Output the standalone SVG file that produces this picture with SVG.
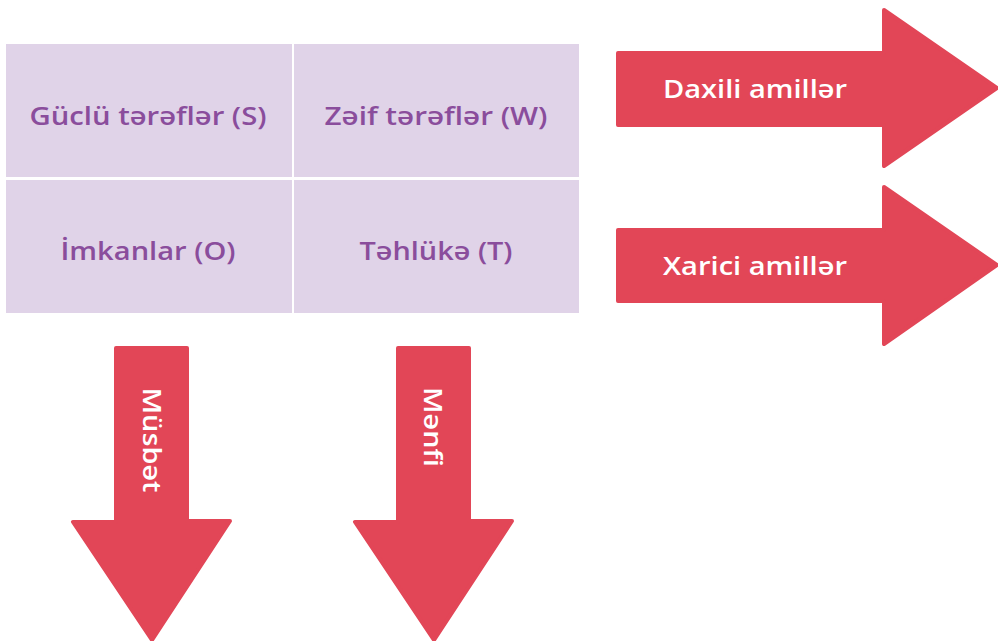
<svg xmlns="http://www.w3.org/2000/svg" width="998" height="641" viewBox="0 0 998 641">
<style>
.cell{fill:#E0D3E8}
.ct{font-family:"Open Sans","Liberation Sans",sans-serif;font-weight:600;font-size:25px;fill:#8A4D9C;text-anchor:middle}
.arr{fill:#E24657;stroke:#E24657;stroke-width:4;stroke-linejoin:round}
.at{font-family:"Open Sans","Liberation Sans",sans-serif;font-weight:600;font-size:25px;fill:#FFFFFF;text-anchor:middle}
</style>
<rect width="998" height="641" fill="#FFFFFF"/>
<g id="cell-s"><rect class="cell" x="6" y="44" width="286" height="133"/><text class="ct" x="148" y="125" textLength="237" lengthAdjust="spacingAndGlyphs">Güclü tərəflər (S)</text></g>
<g id="cell-w"><rect class="cell" x="294" y="44" width="285" height="133"/><text class="ct" x="436" y="125" textLength="223" lengthAdjust="spacingAndGlyphs">Zəif tərəflər (W)</text></g>
<g id="cell-o"><rect class="cell" x="6" y="180" width="286" height="133"/><text class="ct" x="148" y="260" textLength="175" lengthAdjust="spacingAndGlyphs">İmkanlar (O)</text></g>
<g id="cell-t"><rect class="cell" x="294" y="180" width="285" height="133"/><text class="ct" x="436" y="260" textLength="153" lengthAdjust="spacingAndGlyphs">Təhlükə (T)</text></g>
<g id="arrow-daxili"><polygon class="arr" points="618,53 884,53 884,10 997,88 884,166 884,125 618,125"/><text class="at" x="755" y="98" textLength="184" lengthAdjust="spacingAndGlyphs">Daxili amillər</text></g>
<g id="arrow-xarici"><polygon class="arr" points="618,230 884,230 884,187 997,265 884,344 884,301 618,301"/><text class="at" x="755" y="275" textLength="184" lengthAdjust="spacingAndGlyphs">Xarici amillər</text></g>
<g id="arrow-musbet"><polygon class="arr" points="116,348 187,348 187,521 230,521 152,640 73,522 116,522"/><text class="at" transform="translate(143,440) rotate(90)" x="0" y="0" textLength="105" lengthAdjust="spacingAndGlyphs">Müsbət</text></g>
<g id="arrow-menfi"><polygon class="arr" points="398,348 469,348 469,521 512,521 434,640 355,522 398,522"/><text class="at" transform="translate(424,427) rotate(90)" x="0" y="0" textLength="80" lengthAdjust="spacingAndGlyphs">Mənfi</text></g>
</svg>
